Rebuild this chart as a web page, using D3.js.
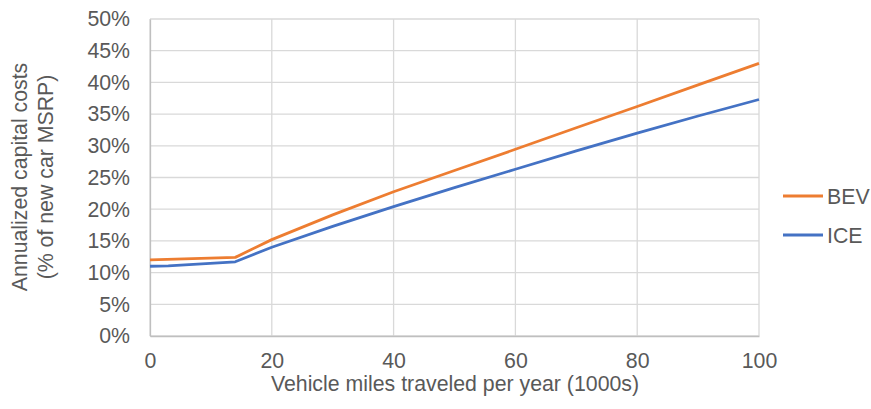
<!DOCTYPE html>
<html>
<head>
<meta charset="utf-8">
<script src="https://cdn.jsdelivr.net/npm/d3@7"></script>
<style>
  html, body { margin: 0; padding: 0; background: #fff; }
  svg { display: block; }
  text { font-family: "Liberation Sans", Arial, sans-serif; fill: #595959; }
</style>
</head>
<body>
<svg id="chart" width="871" height="409"></svg>
<script>
// Annual mileage (thousands of miles)
const milesBEV = [0, 14, 20, 30, 40, 50, 60, 70, 80, 90, 100];
const milesICE = [0, 3, 14, 20, 30, 40, 50, 60, 70, 80, 90, 100];
// Annualized capital cost as a share of new car MSRP (%)
const costBEV = [12.0, 12.4, 15.2, 19.1, 22.75, 26.1, 29.45, 32.85, 36.2, 39.6, 43.0];
const costICE = [11.0, 11.05, 11.7, 14.0, 17.3, 20.4, 23.4, 26.3, 29.2, 32.0, 34.7, 37.3];
const seriesNames = ["BEV", "ICE"];
const seriesColors = ["#ED7D31", "#4472C4"];
const xTicks = [0, 20, 40, 60, 80, 100];
const yTicks = [0, 5, 10, 15, 20, 25, 30, 35, 40, 45, 50];

const FONT = "21.3px";
const svg = d3.select("#chart");
const plotL = 150, plotR = 759, plotT = 19, plotB = 336;

const x = d3.scaleLinear().domain([0, 100]).range([plotL, plotR]);
const y = d3.scaleLinear().domain([0, 50]).range([plotB, plotT]);

// gridlines
const grid = svg.append("g");
grid.selectAll("line.h").data(yTicks).join("line")
  .attr("x1", plotL).attr("x2", plotR)
  .attr("y1", d => y(d)).attr("y2", d => y(d))
  .attr("stroke", "#d9d9d9").attr("stroke-width", 1.3);
grid.selectAll("line.v").data(xTicks).join("line")
  .attr("x1", d => x(d)).attr("x2", d => x(d))
  .attr("y1", plotT).attr("y2", plotB)
  .attr("stroke", "#d9d9d9").attr("stroke-width", 1.3);

// axes
const yAxis = svg.append("g").attr("transform", `translate(${plotL},0)`)
  .call(d3.axisLeft(y).tickValues(yTicks).tickSize(0).tickPadding(20).tickFormat(d => d + "%"));
const xAxis = svg.append("g").attr("transform", `translate(0,${plotB})`)
  .call(d3.axisBottom(x).tickValues(xTicks).tickSize(0).tickPadding(17));
[yAxis, xAxis].forEach(a => {
  a.select(".domain").attr("stroke", "#bfbfbf").attr("stroke-width", 1.3);
  a.selectAll("text").style("font-size", FONT).attr("fill", "#595959");
});

// series
const line = d3.line().x(d => x(d[0])).y(d => y(d[1]));
const series = [
  { name: seriesNames[0], color: seriesColors[0], pts: d3.zip(milesBEV, costBEV) },
  { name: seriesNames[1], color: seriesColors[1], pts: d3.zip(milesICE, costICE) }
];
svg.selectAll("path.series").data(series).join("path")
  .attr("class", "series")
  .attr("fill", "none")
  .attr("stroke", d => d.color)
  .attr("stroke-width", 2.8)
  .attr("stroke-linejoin", "round")
  .attr("d", d => line(d.pts));

// legend
const legend = svg.append("g");
series.forEach((s, i) => {
  const ly = 196 + i * 39;
  legend.append("line").attr("x1", 783).attr("x2", 823).attr("y1", ly).attr("y2", ly)
    .attr("stroke", s.color).attr("stroke-width", 2.8);
  legend.append("text").attr("x", 827).attr("y", ly + 7.5)
    .style("font-size", FONT).text(s.name);
});

// axis titles
svg.append("text").attr("x", 455).attr("y", 391).attr("text-anchor", "middle")
  .style("font-size", FONT).text("Vehicle miles traveled per year (1000s)");
const yt = svg.append("text").attr("transform", "translate(0,177) rotate(-90)")
  .attr("text-anchor", "middle").style("font-size", FONT);
yt.append("tspan").attr("x", 0).attr("y", 27).text("Annualized capital costs");
yt.append("tspan").attr("x", 0).attr("y", 53).text("(% of new car MSRP)");
</script>
</body>
</html>
